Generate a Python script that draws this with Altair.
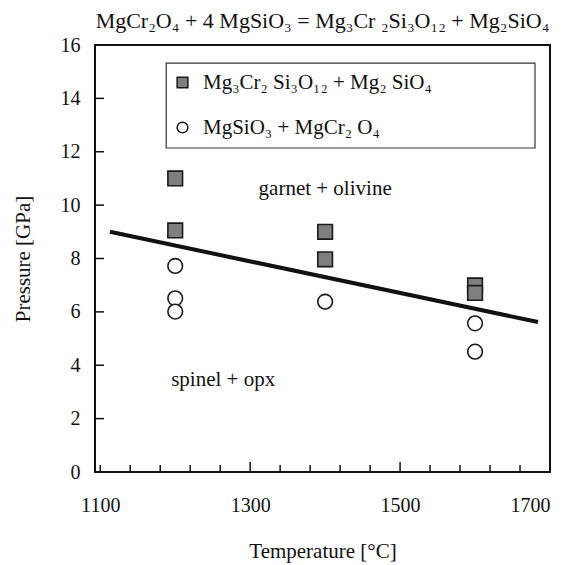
import altair as alt
import pandas as pd

# ---- data ----
GARNET = "Mg₃Cr₂ Si₃O₁₂ +  Mg₂ SiO₄"
SPINEL = "MgSiO₃ + MgCr₂ O₄"

sq_T = [1200, 1200, 1400, 1400, 1600, 1600]
sq_P = [11.0, 9.05, 9.0, 7.97, 6.99, 6.71]
ci_T = [1200, 1200, 1200, 1400, 1600, 1600]
ci_P = [7.72, 6.51, 6.01, 6.38, 5.57, 4.51]

line_T = [1113, 1684]
line_P = [9.0, 5.62]

x_ticks_minor = [1100, 1140, 1180, 1220, 1260, 1340, 1380, 1420, 1460, 1540, 1580, 1620, 1660, 1700]
x_ticks_major = [1300, 1500]
y_ticks = [2, 4, 6, 8, 10, 12, 14]
x_labels = [1100, 1300, 1500, 1700]
y_labels = [0, 2, 4, 6, 8, 10, 12, 14, 16]

notes_text = ["garnet + olivine", "spinel + opx"]
notes_T = [1400, 1264]
notes_P = [10.6, 3.45]

legend_box = {"T1": 1188, "T2": 1680, "P1": 12.14, "P2": 15.32}

FONT = "Liberation Serif"
W, H = 455, 427
XDOM = [1093, 1700]
YDOM = [0, 16]

pts = pd.DataFrame({
    "T": sq_T + ci_T,
    "P": sq_P + ci_P,
    "phase": [GARNET] * len(sq_T) + [SPINEL] * len(ci_T),
})
line_df = pd.DataFrame({"T": line_T, "P": line_P})
notes_df = pd.DataFrame({"text": notes_text, "T": notes_T, "P": notes_P})
box_df = pd.DataFrame([legend_box])
xmin_df = pd.DataFrame({"T": x_ticks_minor})
xmaj_df = pd.DataFrame({"T": x_ticks_major})
yt_df = pd.DataFrame({"P": y_ticks})

xscale = alt.Scale(domain=XDOM, nice=False, zero=False)
yscale = alt.Scale(domain=YDOM, nice=False)

xaxis = alt.Axis(values=x_labels, format="d", title="Temperature [°C]", labelFont=FONT,
                 labelFontSize=20, labelColor="#111", titleFont=FONT, titleFontSize=21,
                 titleFontWeight="normal", titleColor="#111", ticks=False, domain=False,
                 grid=False, labelPadding=23, titlePadding=25)
yaxis = alt.Axis(values=y_labels, format="d", title="Pressure [GPa]", labelFont=FONT,
                 labelFontSize=20, labelColor="#111", titleFont=FONT, titleFontSize=21,
                 titleFontWeight="normal", titleColor="#111", ticks=False, domain=False,
                 grid=False, labelPadding=15, titlePadding=27)

box = alt.Chart(box_df).mark_rect(fill="white", stroke="#333", strokeWidth=1.2).encode(
    x=alt.X("T1:Q", scale=xscale, axis=xaxis), x2="T2:Q",
    y=alt.Y("P1:Q", scale=yscale, axis=yaxis), y2="P2:Q",
)

xminor = alt.Chart(xmin_df).mark_rule(color="#111", strokeWidth=1.5).encode(
    x=alt.X("T:Q", scale=xscale), y=alt.value(H), y2=alt.value(H - 7))
xmajor = alt.Chart(xmaj_df).mark_rule(color="#111", strokeWidth=1.5).encode(
    x=alt.X("T:Q", scale=xscale), y=alt.value(H), y2=alt.value(H - 10))
ytk = alt.Chart(yt_df).mark_rule(color="#111", strokeWidth=1.5).encode(
    y=alt.Y("P:Q", scale=yscale), x=alt.value(0), x2=alt.value(9))

line = alt.Chart(line_df).mark_line(color="#111", strokeWidth=4).encode(
    x=alt.X("T:Q", scale=xscale), y=alt.Y("P:Q", scale=yscale))

leg = alt.Legend(title=None, orient="none", legendX=77, legendY=27, padding=0,
                 labelFont=FONT, labelFontSize=21, labelColor="#111", labelLimit=400,
                 labelOffset=10, rowPadding=23, symbolSize=115, symbolStrokeWidth=1.5)

DOM = [GARNET, SPINEL]
points = alt.Chart(pts).mark_point(filled=True, size=215, strokeWidth=1.6, opacity=1).encode(
    x=alt.X("T:Q", scale=xscale),
    y=alt.Y("P:Q", scale=yscale),
    shape=alt.Shape("phase:N", scale=alt.Scale(domain=DOM, range=["square", "circle"]), legend=leg),
    fill=alt.Fill("phase:N", scale=alt.Scale(domain=DOM, range=["#7f7f7f", "white"]), legend=leg),
    stroke=alt.Stroke("phase:N", scale=alt.Scale(domain=DOM, range=["#1a1a1a", "#1a1a1a"]), legend=leg),
)

notes = alt.Chart(notes_df).mark_text(font=FONT, fontSize=21, color="#111").encode(
    x=alt.X("T:Q", scale=xscale), y=alt.Y("P:Q", scale=yscale), text="text:N")

chart = alt.layer(box, xminor, xmajor, ytk, line, points, notes).properties(
    width=W, height=H,
    title=alt.TitleParams("MgCr₂O₄  + 4 MgSiO₃ = Mg₃Cr ₂Si₃O₁₂ + Mg₂SiO₄", font=FONT, fontSize=22,
                          fontWeight="normal", color="#111", anchor="middle", offset=2),
    autosize=alt.AutoSizeParams(type="none"),
    padding={"left": 87, "top": 37, "right": 12, "bottom": 95},
).configure_view(stroke="#111", strokeWidth=2)

chart.save("out.html", embed_options={"renderer": "svg", "actions": False})
